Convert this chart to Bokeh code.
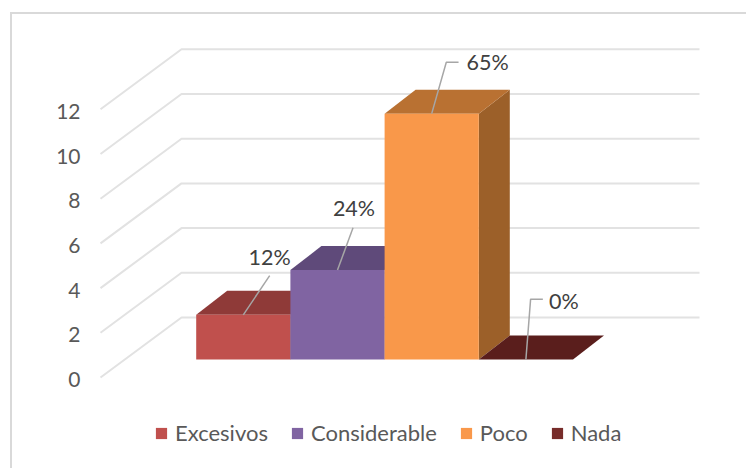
from bokeh.core.properties import value
from bokeh.embed import file_html
from bokeh.models import FixedTicker, Legend, LegendItem, LinearAxis, Range1d
from bokeh.plotting import figure
from bokeh.resources import INLINE

# Survey results
categories = ["Excesivos", "Considerable", "Poco", "Nada"]
counts = [2, 4, 11, 0]
percent_labels = ["12%", "24%", "65%", "0%"]
y_ticks = [0, 2, 4, 6, 8, 10, 12]

front_colors = ["#c0504d", "#8064a2", "#f9984a", "#772c2a"]
top_colors = ["#8f3a38", "#5f4a7a", "#b97132", "#5a1e1c"]
side_colors = ["#8f3a38", "#5f4a7a", "#9c6029", "#5a1e1c"]

# Leader elbow offsets from each bar's top centre, in (bar slots, value units)
leader_dx = [0.28, 0.165, 0.155, 0.05]
leader_dy = [1.75, 1.9, 2.3, 2.7]
leader_run = [0.0, 0.0, 0.13, 0.13]
label_dx = [0.28, 0.175, 0.37, 0.245]
label_dy = [2.6, 2.8, 2.3, 2.62]

W, H = 746, 468
FRAME_LEFT = 88
PX_PER_VALUE = 22.35
PX_PER_SLOT = 94.2
ZERO_PY = 377.0       # pixel row of value 0 at the front of the side wall
FIRST_BAR_PX = 195.7  # pixel column of the first bar's left edge
TICK_SHIFT_PX = 2.0   # tick labels sit slightly below their gridlines

y_top = ZERO_PY / PX_PER_VALUE
y_bottom = (ZERO_PY - H) / PX_PER_VALUE
x_left = (FRAME_LEFT - FIRST_BAR_PX) / PX_PER_SLOT
x_right = (W - FIRST_BAR_PX) / PX_PER_SLOT

# Projection constants of the pseudo-3D box
WALL_FRONT_X = (100 - FIRST_BAR_PX) / PX_PER_SLOT
WALL_BACK_X = (181 - FIRST_BAR_PX) / PX_PER_SLOT
WALL_END_X = (699 - FIRST_BAR_PX) / PX_PER_SLOT
WALL_DY = 60 / PX_PER_VALUE
BAR_FLOOR = 18 / PX_PER_VALUE
BAR_DX = 31 / PX_PER_SLOT
BAR_DY = 24 / PX_PER_VALUE

# Chart border: a top and a left rule painted behind the transparent canvas
border_css = {
    "background-image": "linear-gradient(#d9d9d9,#d9d9d9),linear-gradient(#d9d9d9,#d9d9d9)",
    "background-size": "736px 2px,2px 456px",
    "background-position": "10px 12px,10px 12px",
    "background-repeat": "no-repeat",
    "background-color": "white",
}

p = figure(width=W, height=H, output_backend="svg", toolbar_location=None,
           x_range=Range1d(x_left, x_right), y_range=Range1d(y_bottom, y_top),
           min_border_left=FRAME_LEFT, min_border_right=0, min_border_top=0, min_border_bottom=0,
           x_axis_location=None, y_axis_location=None, styles=border_css)
p.outline_line_color = None
p.grid.visible = False
p.background_fill_color = None
p.border_fill_color = None

# Value axis left of the wall, on its own slightly shifted range
shift = TICK_SHIFT_PX / PX_PER_VALUE
p.extra_y_ranges = {"ticks": Range1d(y_bottom + shift, y_top + shift)}
axis = LinearAxis(ticker=FixedTicker(ticks=y_ticks), y_range_name="ticks")
axis.axis_line_color = None
axis.major_tick_line_color = None
axis.minor_tick_line_color = None
axis.major_label_text_font = "Lato"
axis.major_label_text_font_size = "21px"
axis.major_label_text_color = "#595959"
axis.major_label_standoff = 2
p.add_layout(axis, "left")

# Gridlines: along the side wall, then along the back wall
p.multi_line(xs=[[WALL_FRONT_X, WALL_BACK_X, WALL_END_X] for _ in y_ticks],
             ys=[[t, t + WALL_DY, t + WALL_DY] for t in y_ticks],
             line_color="#e2e2e2", line_width=2)

items = []
for i, (name, v) in enumerate(zip(categories, counts)):
    x0, x1 = float(i), float(i + 1)
    base, top = BAR_FLOOR, BAR_FLOOR + v
    p.patch([x1, x1 + BAR_DX, x1 + BAR_DX, x1],
            [base, base + BAR_DY, top + BAR_DY, top],
            fill_color=side_colors[i], line_color=None)
    p.patch([x0, x1, x1 + BAR_DX, x0 + BAR_DX],
            [top, top, top + BAR_DY, top + BAR_DY],
            fill_color=top_colors[i], line_color=None)
    front = p.quad(left=[x0], right=[x1], bottom=[base], top=[top],
                   fill_color=front_colors[i], line_color=None)
    items.append(LegendItem(label=name, renderers=[front]))

# Data labels with their leader lines
for i, v in enumerate(counts):
    ax, ay = i + 0.5, BAR_FLOOR + v
    ex, ey = ax + leader_dx[i], ay + leader_dy[i]
    p.line([ax, ex, ex + leader_run[i]], [ay, ey, ey], line_color="#a6a6a6", line_width=1.5)
    align = "center" if leader_run[i] == 0 else "left"
    p.text([ax + label_dx[i]], [ay + label_dy[i]], text=[percent_labels[i]],
           text_font=value("Lato"), text_font_size="21.5px", text_color="#404040",
           text_align=align, text_baseline="middle")

legend = Legend(items=items, orientation="horizontal", location=(66, 22),
                glyph_width=14, glyph_height=14, label_standoff=7, spacing=22,
                padding=0, margin=0, border_line_color=None, background_fill_alpha=0,
                label_text_font="Lato", label_text_font_size="22px",
                label_text_color="#595959", label_height=14)
p.add_layout(legend, "center")

open("out.html", "w").write(file_html(p, INLINE))
